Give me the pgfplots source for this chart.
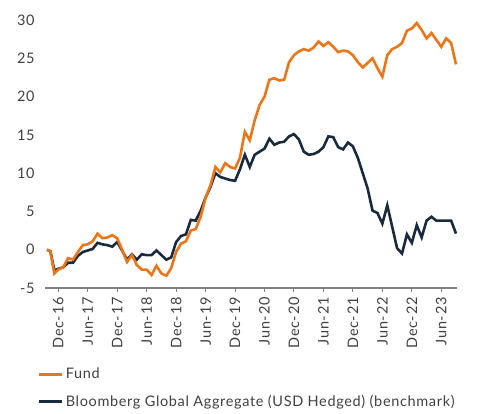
\documentclass[border=0pt]{standalone}
\usepackage{pgfplots}
\pgfplotsset{compat=1.18}
\usepackage{fontspec}
\setmainfont{Lato}[LetterSpace=4.5]
\definecolor{fundorange}{RGB}{234,118,25}
\definecolor{bmnavy}{RGB}{26,42,62}
\definecolor{txtgray}{RGB}{64,64,64}
\definecolor{axgray}{RGB}{128,128,128}
\begin{document}
\begin{tikzpicture}
\begin{axis}[
  at={(0,0)}, anchor=south west,
  scale only axis, width=412bp, height=268bp,
  xmin=-2.7, xmax=81.2, ymin=-5, ymax=30,
  axis x line*=bottom, axis y line*=left,
  x axis line style={draw=axgray, line width=1.1bp, -},
  y axis line style={draw=none},
  ytick={-5,0,...,30},
  ytick style={draw=none},
  xtick={0,6,...,78},
  xticklabels={Dec-16,Jun-17,Dec-17,Jun-18,Dec-18,Jun-19,Dec-19,Jun-20,Dec-20,Jun-21,Dec-21,Jun-22,Dec-22,Jun-23},
  xtick style={draw=axgray, line width=1bp},
  tick align=outside,
  major tick length=4bp,
  x tick label style={rotate=90, anchor=east, xshift=-2bp},
  y tick label style={anchor=east, xshift=-3bp},
  tick label style={font=\fontsize{14.5bp}{17bp}\selectfont, text=txtgray},
  /pgf/number format/assume math mode=true,
  legend style={at={(axis description cs:0,0)}, anchor=north west, xshift=-7bp, yshift=-78bp,
    draw=none, fill=none, font=\fontsize{14.5bp}{17bp}\selectfont, text=txtgray,
    row sep=11bp, inner sep=0pt, legend cell align=left},
  legend image code/.code={\draw[#1, line width=2.6bp] (0bp,0bp) -- (23bp,0bp);},
]
\addplot[bmnavy, line width=2.6bp, forget plot] coordinates {
(-2.3,0) (-1.6,-0.2) (-0.8,-2.7) (0,-2.5) (1,-2.3) (2,-1.7) (3,-1.7) (4,-0.8) (5,-0.3) (6,-0.1)
(7,0.1) (8,0.9) (9,0.7) (10,0.6) (11,0.4) (12,1.0) (13,-0.1) (14,-1.3) (15,-0.6) (16,-1.3)
(17,-0.6) (18,-0.7) (19,-0.7) (20,-0.1) (21,-0.7) (22,-1.3) (23,-1.0) (24,1.0) (25,1.8) (26,2.0)
(27,3.9) (28,3.8) (29,5.1) (30,6.8) (31,8.2) (32,10.0) (33,9.5) (34,9.3) (35,9.1) (36,9.0)
(37,10.5) (38,12.4) (39,10.8) (40,12.4) (41,12.8) (42,13.2) (43,14.5) (44,13.7) (45,14.0) (46,14.1)
(47,14.8) (48,15.1) (49,14.4) (50,12.8) (51,12.4) (52,12.5) (53,12.8) (54,13.4) (55,14.8) (56,14.7)
(57,13.4) (58,13.1) (59,14.0) (60,13.5) (61,12.0) (62,10.0) (63,8.0) (64,5.1) (65,4.8) (66,3.4)
(67,5.8) (68,3.0) (69,0.2) (70,-0.5) (71,2.0) (72,0.9) (73,3.2) (74,1.6) (75,3.8) (76,4.3)
(77,3.8) (78,3.8) (79,3.8) (80,3.8) (81,2.1)
};
\addplot[fundorange, line width=2.6bp] coordinates {
(-2.3,0) (-1.6,-0.2) (-0.8,-3.1) (0,-2.6) (1,-2.3) (2,-1.1) (3,-1.3) (4,-0.3) (5,0.6) (6,0.7)
(7,1.1) (8,2.1) (9,1.5) (10,1.6) (11,1.9) (12,1.5) (13,0.0) (14,-1.6) (15,-0.7) (16,-2.0)
(17,-2.6) (18,-2.6) (19,-3.3) (20,-2.1) (21,-3.1) (22,-3.4) (23,-2.4) (24,-0.3) (25,0.8) (26,1.1)
(27,2.5) (28,2.7) (29,4.3) (30,6.8) (31,8.4) (32,10.8) (33,10.1) (34,11.3) (35,10.8) (36,10.6)
(37,12.0) (38,15.4) (39,14.3) (40,16.9) (41,18.9) (42,20.0) (43,22.2) (44,22.4) (45,22.1) (46,22.2)
(47,24.5) (48,25.4) (49,25.9) (50,26.2) (51,26.0) (52,26.4) (53,27.2) (54,26.6) (55,27.1) (56,26.5)
(57,25.8) (58,26.0) (59,25.9) (60,25.4) (61,24.5) (62,23.8) (63,24.4) (64,25.0) (65,23.7) (66,22.6)
(67,25.4) (68,26.2) (69,26.5) (70,27.0) (71,28.6) (72,28.9) (73,29.6) (74,28.7) (75,27.6) (76,28.3)
(77,27.4) (78,26.5) (79,27.6) (80,27.0) (81,24.2)
};
\addlegendentry{Fund}
\addlegendimage{bmnavy}
\addlegendentry{Bloomberg Global Aggregate (USD Hedged) (benchmark)}
\end{axis}
\pgfresetboundingbox
\useasboundingbox (-45bp,-126bp) rectangle (436bp,288bp);
\end{tikzpicture}
\end{document}
